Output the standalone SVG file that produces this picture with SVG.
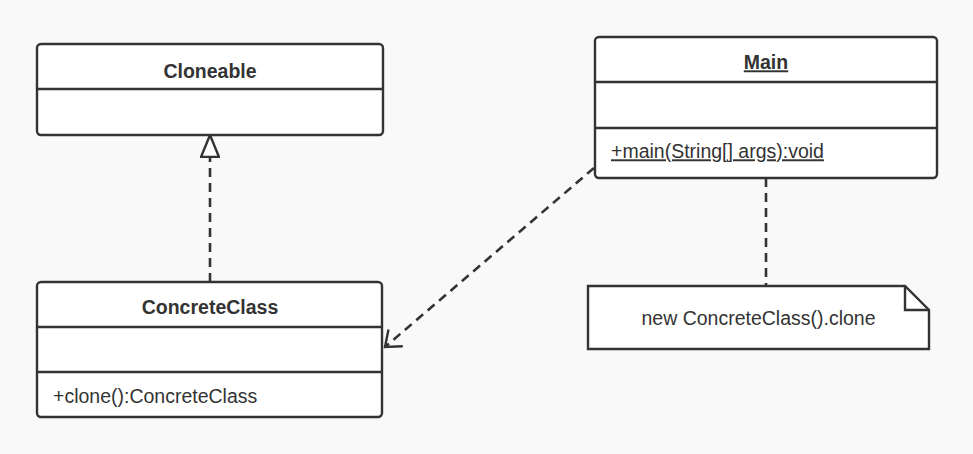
<svg xmlns="http://www.w3.org/2000/svg" width="973" height="454" viewBox="0 0 973 454">
<style>
.box{fill:#ffffff;stroke:#333333;stroke-width:2.4}
.div{stroke:#333333;stroke-width:2.4}
.t{font-family:"Liberation Sans",Arial,sans-serif;font-size:19.5px;fill:#333333}
.b{font-weight:bold}
.c{text-anchor:middle}
.dash{fill:none;stroke:#333333;stroke-width:2.6;stroke-dasharray:9 6}
.solid{fill:none;stroke:#333333;stroke-width:2.4}
</style>
<defs>
<marker id="tri" viewBox="0 0 24 20" refX="23" refY="10" markerWidth="24" markerHeight="20" markerUnits="userSpaceOnUse" orient="auto">
<path d="M1,1 L23,10 L1,19 Z" fill="#ffffff" stroke="#333333" stroke-width="2.4"/>
</marker>
<marker id="open" viewBox="0 0 20 24" refX="18" refY="12" markerWidth="20" markerHeight="24" markerUnits="userSpaceOnUse" orient="auto">
<path d="M4,1 L18,12 L4,23" fill="none" stroke="#333333" stroke-width="2.4"/>
</marker>
</defs>
<rect width="973" height="454" fill="#f9f9f9"/>
<g id="connectors">
<line class="dash" x1="210" y1="282" x2="210" y2="135" marker-end="url(#tri)"/>
<line class="dash" x1="594" y1="168" x2="385" y2="347" marker-end="url(#open)"/>
<line class="dash" x1="766" y1="178" x2="766" y2="286"/>
</g>
<g id="Cloneable">
<rect class="box" x="37" y="44" width="346" height="91" rx="4"/>
<line class="div" x1="37" y1="89" x2="383" y2="89"/>
<text class="t b c" x="210" y="77.5">Cloneable</text>
</g>
<g id="ConcreteClass">
<rect class="box" x="37" y="282" width="345" height="135" rx="4"/>
<line class="div" x1="37" y1="327" x2="382" y2="327"/>
<line class="div" x1="37" y1="372" x2="382" y2="372"/>
<text class="t b c" x="210" y="314">ConcreteClass</text>
<text class="t" x="53" y="403">+clone():ConcreteClass</text>
</g>
<g id="Main">
<rect class="box" x="595" y="37" width="342" height="141" rx="4"/>
<line class="div" x1="595" y1="82" x2="937" y2="82"/>
<line class="div" x1="595" y1="128" x2="937" y2="128"/>
<text class="t b c" x="766" y="69.3" text-decoration="underline">Main</text>
<text class="t" x="611" y="158.3" text-decoration="underline">+main(String[] args):void</text>
</g>
<g id="Note">
<path class="box" d="M588,286 L905,286 L929,310 L929,349 L588,349 Z"/>
<path class="solid" d="M905,286 L905,310 L929,310"/>
<text class="t c" x="758.5" y="325">new ConcreteClass().clone</text>
</g>
</svg>
